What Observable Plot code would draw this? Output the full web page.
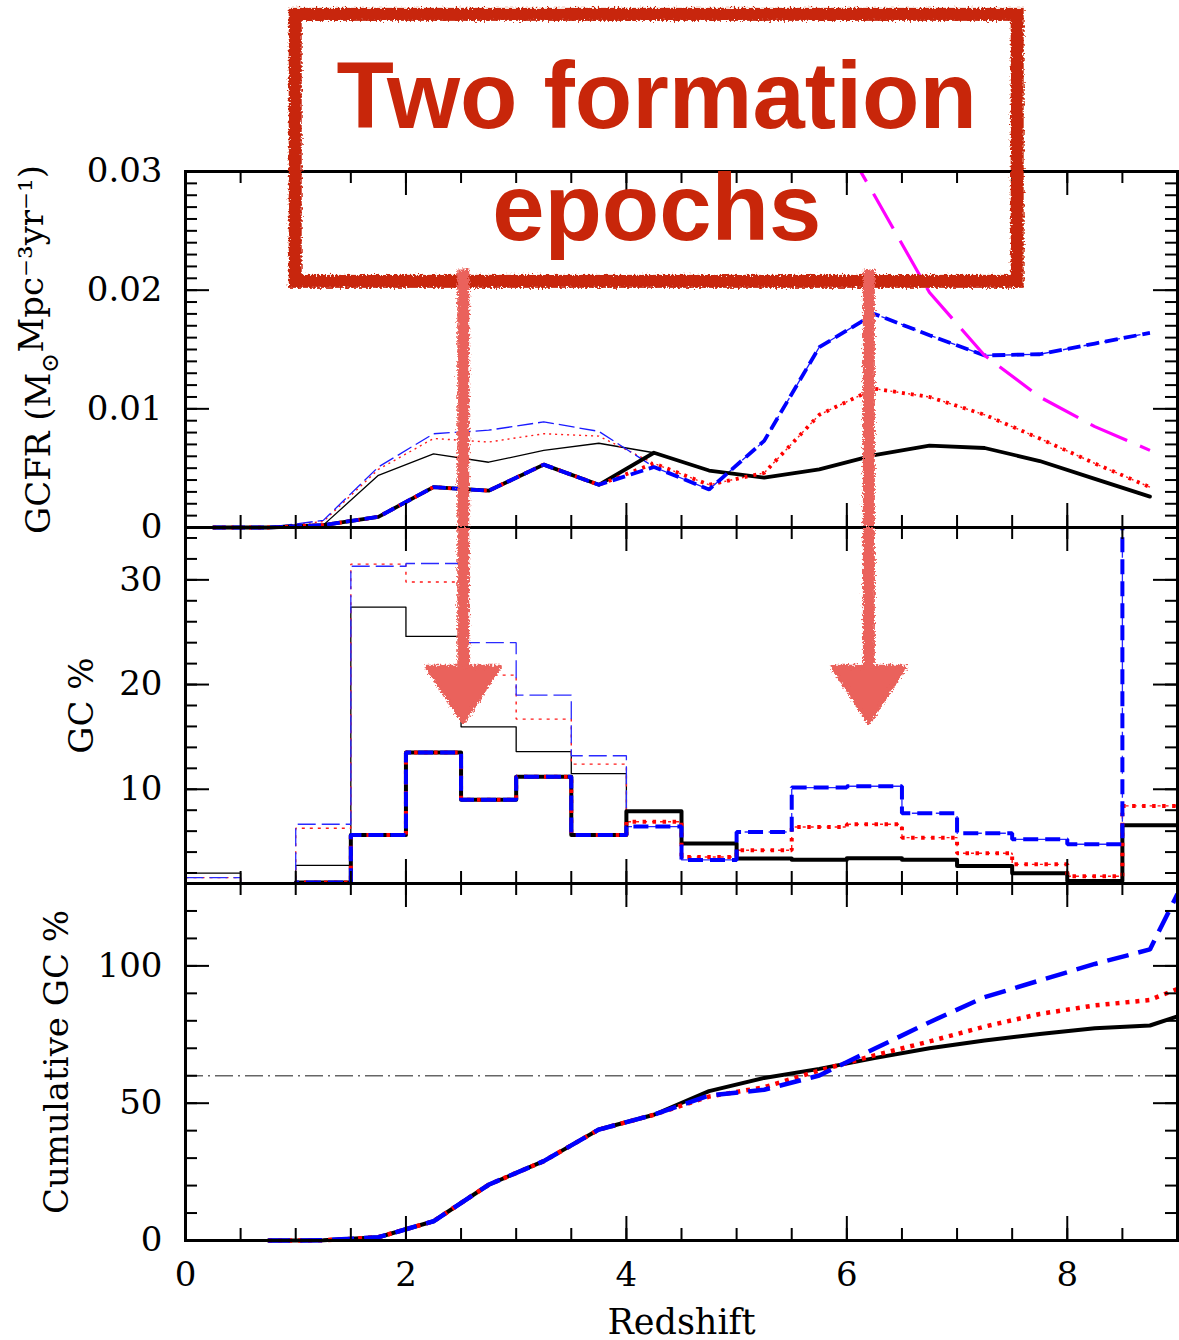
<!DOCTYPE html>
<html><head><meta charset="utf-8">
<script src="https://cdn.jsdelivr.net/npm/d3@7"></script>
<script src="https://cdn.jsdelivr.net/npm/@observablehq/plot@0.6"></script>
<style>
html,body{margin:0;padding:0;background:#fff;}
#chart{position:relative;width:1179px;height:1340px;overflow:hidden;background:#fff;}
#chart svg{display:block;overflow:visible;background:transparent;}
</style></head>
<body>
<svg width="0" height="0" style="position:absolute">
 <defs>
  <filter id="rough" filterUnits="userSpaceOnUse" x="-100" y="-300" width="1400" height="1800">
   <feTurbulence type="fractalNoise" baseFrequency="0.5" numOctaves="2" seed="7" result="noise"/>
   <feDisplacementMap in="SourceGraphic" in2="noise" scale="7" xChannelSelector="R" yChannelSelector="G"/>
  </filter>
 </defs>
</svg>
<div id="chart"></div>
<script>
// ---------------- DATA ----------------
// Top panel: GC formation rate at bin centres (redshift)
const zMid = [0.25, 0.75, 1.25, 1.75, 2.25, 2.75, 3.25, 3.75, 4.25, 4.75, 5.25, 5.75, 6.25, 6.75, 7.25, 7.75, 8.25, 8.75];
const gcfrThickBlack = [0, 0, 0.0002, 0.0009, 0.0034, 0.0031, 0.0053, 0.0036, 0.0063, 0.0048, 0.0042, 0.0049, 0.0061, 0.0069, 0.0067, 0.0056, 0.0041, 0.0026];
const gcfrThickRed   = [0, 0, 0.0002, 0.0009, 0.0034, 0.0031, 0.0053, 0.0036, 0.0054, 0.0036, 0.0046, 0.0095, 0.0117, 0.0110, 0.0095, 0.0075, 0.0054, 0.0034];
const gcfrThickBlue  = [0, 0, 0.0002, 0.0009, 0.0034, 0.0031, 0.0053, 0.0036, 0.0051, 0.0032, 0.0073, 0.0152, 0.0180, 0.0162, 0.0145, 0.0146, 0.0155, 0.0164];
const gcfrThinBlack  = [0, 0, 0.0002, 0.0044, 0.0062, 0.0055, 0.0065, 0.0071, 0.0063, 0.0048, 0.0042, 0.0049, 0.0061, 0.0069, 0.0067, 0.0056, 0.0041, 0.0026];
const gcfrThinRed    = [0, 0, 0.0005, 0.0049, 0.0075, 0.0072, 0.0079, 0.0077, 0.0054, 0.0036, 0.0046, 0.0095, 0.0117, 0.0110, 0.0095, 0.0075, 0.0054, 0.0034];
const gcfrThinBlue   = [0, 0, 0.0006, 0.0051, 0.0079, 0.0082, 0.0089, 0.0081, 0.0051, 0.0032, 0.0073, 0.0152, 0.0180, 0.0162, 0.0145, 0.0146, 0.0155, 0.0164];
const zMagenta = [5.75, 6.25, 6.75, 7.25, 7.75, 8.25, 8.75];
const gcfrMagenta = [0.036, 0.028, 0.0198, 0.0145, 0.0110, 0.0085, 0.0065];
const gcfrTicks = [0, 0.01, 0.02, 0.03];
const gcfrTickLabels = ["0", "0.01", "0.02", "0.03"];

// Middle panel: GC % per redshift bin (bin edges)
const binEdges = [0, 0.5, 1, 1.5, 2, 2.5, 3, 3.5, 4, 4.5, 5, 5.5, 6, 6.5, 7, 7.5, 8, 8.5, 9];
const gcThickBlack = [0, 0, 1.1, 5.64, 13.5, 9.0, 11.2, 5.64, 7.9, 4.81, 3.38, 3.28, 3.41, 3.28, 2.68, 1.97, 1.24, 6.56];
const gcThickRed   = [0, 0, 1.1, 5.64, 13.5, 9.0, 11.2, 5.64, 6.9, 3.53, 4.17, 6.40, 6.66, 5.38, 3.89, 2.83, 1.69, 8.41];
const gcThickBlue  = [0, 0, 1.1, 5.64, 13.5, 9.0, 11.2, 5.64, 6.44, 3.25, 5.92, 10.16, 10.29, 7.71, 5.80, 5.22, 4.75, 45];
const gcThinBlack  = [2.0, 0.3, 2.74, 27.4, 24.6, 15.96, 13.6, 11.5, 7.9, 4.81, 3.38, 3.28, 3.41, 3.28, 2.68, 1.97, 1.24, 6.56];
const gcThinRed    = [1.56, 0.3, 6.27, 31.5, 29.8, 20.9, 16.7, 12.4, 6.9, 3.53, 4.17, 6.40, 6.66, 5.38, 3.89, 2.83, 1.69, 8.41];
const gcThinBlue   = [1.56, 0.3, 6.66, 31.3, 31.56, 24.0, 19.0, 13.2, 6.44, 3.25, 5.92, 10.16, 10.29, 7.71, 5.80, 5.22, 4.75, 45];
const gcTicks = [10, 20, 30];

// Bottom panel: cumulative GC %
const zCum = [0.75, 1.0, 1.25, 1.5, 1.75, 2.0, 2.25, 2.75, 3.25, 3.75, 4.25, 4.75, 5.25, 5.75, 6.25, 6.75, 7.25, 7.75, 8.25, 8.75, 9.0];
const cumBlack = [0, 0, 0.1, 0.6, 1.2, 4.1, 7.0, 20.3, 28.9, 40.4, 45.8, 54.4, 59.2, 62.5, 66.4, 70.0, 72.8, 75.2, 77.3, 78.3, 81.6];
const cumRed   = [0, 0, 0.1, 0.6, 1.2, 4.1, 7.0, 20.3, 28.9, 40.4, 45.8, 52.4, 55.8, 61.9, 67.4, 72.5, 77.9, 82.5, 85.6, 87.6, 91.6];
const cumBlue  = [0, 0, 0.1, 0.6, 1.2, 4.1, 7.0, 20.3, 28.9, 40.4, 45.8, 52.8, 54.9, 60.1, 69.8, 79.5, 88.6, 94.7, 100.7, 106.0, 126.2];
const cumRefLevel = [60];
const cumTicks = [0, 50, 100];

const xTickLabels = [0, 2, 4, 6, 8];

// Annotation (in chart units)
const noteLines = ["Two formation", "epochs"];
const noteBaselines = [0.0337, 0.0242];          // GCFR units
const noteBox = [{x1: 1.0, x2: 7.55, y1: 0.0207, y2: 0.0432}];
const arrowZ = [2.52, 6.2];
const arrowShaftTop = 0.0217;                     // GCFR units
const arrowHeadTop = 21.7, arrowTip = 16.4, arrowHalfWidth = 0.33; // GC % / redshift units

// ---------------- HELPERS ----------------
const W = 1179, ML = 185, MR = 2, IW = W - ML - MR;
const FONT = "DejaVu Serif";
const RED_NOTE = "#c8260a", ARROW = "#ea625b";
const pts = (xs, ys) => xs.map((x, i) => ({x, y: ys[i]}));
const steps = (edges, vals) => edges.map((x, i) => ({x, y: vals[Math.min(i, vals.length - 1)]}));
const range = (a, b, s) => d3.range(a, b + s / 2, s);

function frameTicks(innerH, yMaj, yMin) {
  const s = {stroke: "black", strokeWidth: 2};
  const xMaj = [0, 2, 4, 6, 8];
  const xMin = range(0.5, 8.5, 0.5);
  return [
    Plot.ruleX(xMin, {x: d => d, insetTop: innerH - 12, ...s}),
    Plot.ruleX(xMin, {x: d => d, insetBottom: innerH - 12, ...s}),
    Plot.ruleX(xMaj, {x: d => d, insetTop: innerH - 24, ...s}),
    Plot.ruleX(xMaj, {x: d => d, insetBottom: innerH - 24, ...s}),
    Plot.ruleY(yMin, {y: d => d, insetRight: IW - 12, ...s}),
    Plot.ruleY(yMin, {y: d => d, insetLeft: IW - 12, ...s}),
    Plot.ruleY(yMaj, {y: d => d, insetRight: IW - 24, ...s}),
    Plot.ruleY(yMaj, {y: d => d, insetLeft: IW - 24, ...s}),
    Plot.frame({stroke: "black", strokeWidth: 3})
  ];
}
const style = {fontFamily: FONT, fontSize: "34px", background: "transparent", overflow: "visible", color: "black"};
const L = (data, o) => Plot.line(data, {x: "x", y: "y", ...o});
const dashed = {strokeLinecap: "butt", strokeLinejoin: "miter"};
const yLabel = (txt, dx) => Plot.text([txt], {frameAnchor: "left", rotate: -90, dx, textAnchor: "middle", lineAnchor: "middle", fontSize: 34, fontFamily: FONT});

// ---------------- TOP PANEL ----------------
const gcfrLabel = new Map(gcfrTicks.map((t, i) => [t, gcfrTickLabels[i]]));
const topPlot = Plot.plot({
  width: W, height: 527, marginTop: 171, marginBottom: 0, marginLeft: ML, marginRight: MR,
  x: {domain: [0, 9], axis: null},
  y: {domain: [0, 0.03]},
  style,
  marks: [
    L(pts(zMid, gcfrThinBlack), {stroke: "black", strokeWidth: 1.3}),
    L(pts(zMid, gcfrThinRed), {stroke: "#ff1a1a", strokeWidth: 1.4, strokeDasharray: "2 4", ...dashed}),
    L(pts(zMid, gcfrThinBlue), {stroke: "#1a1aff", strokeWidth: 1.3, strokeDasharray: "16 5", ...dashed}),
    L(pts(zMid, gcfrThickBlack), {stroke: "black", strokeWidth: 3.8}),
    L(pts(zMid, gcfrThickRed), {stroke: "red", strokeWidth: 3.8, strokeDasharray: "3 6", ...dashed}),
    L(pts(zMid, gcfrThickBlue), {stroke: "blue", strokeWidth: 3.8, strokeDasharray: "13 6", ...dashed}),
    L(pts(zMagenta, gcfrMagenta), {stroke: "magenta", strokeWidth: 3.2, strokeDasharray: "40 14", clip: true, ...dashed}),
    ...frameTicks(356, gcfrTicks, range(0.001, 0.029, 0.001)),
    Plot.axisY(gcfrTicks, {anchor: "left", tickSize: 0, tickPadding: 23, label: null, tickFormat: d => gcfrLabel.get(d)}),
    yLabel("GCFR (M⊙Mpc⁻³yr⁻¹)", -146),
    Plot.rect(noteBox, {x1: "x1", x2: "x2", y1: "y1", y2: "y2", fill: "none", stroke: RED_NOTE, strokeWidth: 13}),
    Plot.text(noteLines, {x: (noteBox[0].x1 + noteBox[0].x2) / 2, y: (d, i) => noteBaselines[i], text: d => d,
      lineAnchor: "bottom", fontSize: 94, fontWeight: "bold", fontFamily: "Liberation Sans, Arial, sans-serif", fill: RED_NOTE}),
    Plot.ruleX(arrowZ, {x: d => d, y1: arrowShaftTop, y2: 0, stroke: ARROW, strokeWidth: 12, strokeLinecap: "butt"})
  ]
});

// ---------------- MIDDLE PANEL ----------------
const heads = arrowZ.flatMap((z, k) => [
  {id: k, x: z - arrowHalfWidth, y: arrowHeadTop},
  {id: k, x: z + arrowHalfWidth, y: arrowHeadTop},
  {id: k, x: z, y: arrowTip},
  {id: k, x: z - arrowHalfWidth, y: arrowHeadTop}
]);
const stepOpt = {curve: "step-after", clip: true};
const midPlot = Plot.plot({
  width: W, height: 356, marginTop: 0, marginBottom: 0, marginLeft: ML, marginRight: MR,
  x: {domain: [0, 9], axis: null},
  y: {domain: [1, 35]},
  style,
  marks: [
    L(steps(binEdges, gcThinBlack), {stroke: "black", strokeWidth: 1.3, ...stepOpt}),
    L(steps(binEdges, gcThinRed), {stroke: "#ff1a1a", strokeWidth: 1.4, strokeDasharray: "3 5", ...dashed, ...stepOpt}),
    L(steps(binEdges, gcThinBlue), {stroke: "#2a2aff", strokeWidth: 1.3, strokeDasharray: "18 6", ...dashed, ...stepOpt}),
    L(steps(binEdges, gcThickBlack), {stroke: "black", strokeWidth: 4, ...stepOpt}),
    L(steps(binEdges, gcThickRed), {stroke: "red", strokeWidth: 4, strokeDasharray: "3.5 6.5", ...dashed, ...stepOpt}),
    L(steps(binEdges, gcThickBlue), {stroke: "blue", strokeWidth: 4, strokeDasharray: "15 7", ...dashed, ...stepOpt}),
    ...frameTicks(356, gcTicks, range(2, 34, 2)),
    Plot.axisY(gcTicks, {anchor: "left", tickSize: 0, tickPadding: 23, label: null}),
    yLabel("GC %", -103),
    Plot.ruleX(arrowZ, {x: d => d, y1: 35, y2: arrowHeadTop - 0.3, stroke: ARROW, strokeWidth: 12, strokeLinecap: "butt"}),
    Plot.line(heads, {x: "x", y: "y", z: "id", fill: ARROW, stroke: ARROW, strokeWidth: 4, strokeLinejoin: "round", curve: "linear-closed"})
  ]
});

// ---------------- BOTTOM PANEL ----------------
const botPlot = Plot.plot({
  width: W, height: 457, marginTop: 0, marginBottom: 100, marginLeft: ML, marginRight: MR,
  x: {domain: [0, 9]},
  y: {domain: [0, 130]},
  style,
  marks: [
    Plot.ruleY(cumRefLevel, {y: d => d, stroke: "#666", strokeWidth: 1.4, strokeDasharray: "18 5 2 5"}),
    L(pts(zCum, cumBlack), {stroke: "black", strokeWidth: 4}),
    L(pts(zCum, cumRed), {stroke: "red", strokeWidth: 4.5, strokeDasharray: "4 6", ...dashed}),
    L(pts(zCum, cumBlue), {stroke: "blue", strokeWidth: 4.5, strokeDasharray: "22 10", ...dashed}),
    ...frameTicks(357, cumTicks, range(10, 120, 10)),
    Plot.axisY(cumTicks, {anchor: "left", tickSize: 0, tickPadding: 23, label: null}),
    Plot.axisX(xTickLabels, {anchor: "bottom", tickSize: 0, tickPadding: 21, label: null, tickFormat: d => String(d)}),
    yLabel("Cumulative GC %", -128),
    Plot.text(["Redshift"], {frameAnchor: "bottom", dy: 93, lineAnchor: "bottom", fontSize: 35, fontFamily: FONT})
  ]
});

const chart = document.getElementById("chart");
[topPlot, midPlot, botPlot].forEach(p => chart.appendChild(p));

// roughen the hand-drawn annotation (box and arrows)
chart.querySelectorAll(`g[stroke="${ARROW}"], g[stroke="${RED_NOTE}"]`).forEach(g => g.setAttribute("filter", "url(#rough)"));

// subscript the solar symbol in the GCFR label
const lab = [...topPlot.querySelectorAll("text")].find(t => t.textContent.includes("⊙"));
if (lab) {
  const [a, b] = lab.textContent.split("⊙");
  lab.textContent = "";
  const ns = "http://www.w3.org/2000/svg";
  const t1 = document.createElementNS(ns, "tspan"); t1.textContent = a;
  const t2 = document.createElementNS(ns, "tspan"); t2.textContent = "⊙"; t2.setAttribute("dy", "0.3em"); t2.setAttribute("font-size", "24");
  const t3 = document.createElementNS(ns, "tspan"); t3.textContent = b; t3.setAttribute("dy", "-0.42em");
  lab.append(t1, t2, t3);
}
</script>
</body></html>
